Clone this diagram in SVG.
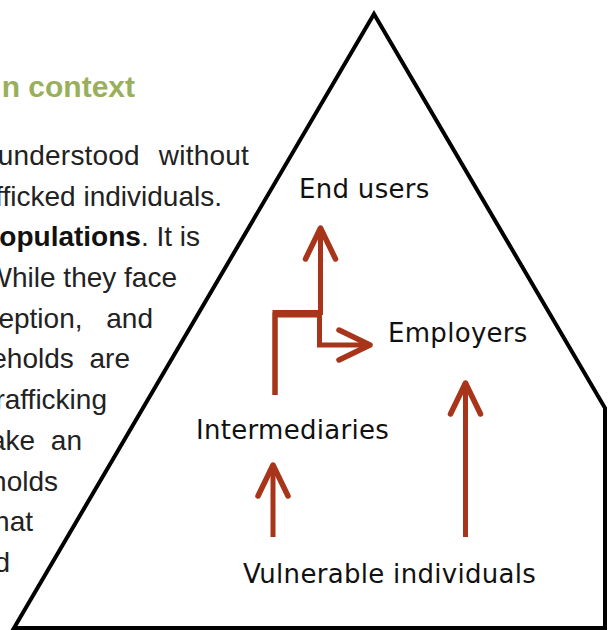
<svg xmlns="http://www.w3.org/2000/svg" width="608" height="630" viewBox="0 0 608 630">
  <style>
    .title { font-family: "Liberation Sans", Arial, sans-serif; font-weight: bold; font-size: 30px; fill: #9aaf5b; }
    .body { font-family: "Liberation Sans", Arial, sans-serif; font-size: 28px; fill: #222222; text-anchor: end; }
    .strong { font-weight: bold; fill: #111111; }
    .label { font-family: "DejaVu Sans", Verdana, sans-serif; font-size: 26px; fill: #111111; letter-spacing: 0.3px; }
    .link { fill: none; stroke: #a8341a; stroke-width: 5; }
  </style>
  <defs>
    <marker id="chevron" markerUnits="userSpaceOnUse" orient="auto" markerWidth="40" markerHeight="40" refX="0" refY="0" overflow="visible">
      <path d="M-31,-15 L0,0 L-31,15" fill="none" stroke="#a8341a" stroke-width="5.5" stroke-linecap="round" stroke-linejoin="round"/>
    </marker>
  </defs>

  <rect width="608" height="630" fill="#ffffff"/>

  <!-- page text running beside the pyramid -->
  <g id="page-text">
    <text class="title" x="135" y="97" text-anchor="end">n context</text>
    <text class="body" x="249" y="165" word-spacing="11" letter-spacing="0.2">understood without</text>
    <text class="body" x="222" y="206">fficked individuals.</text>
    <text class="body" x="200" y="246"><tspan class="strong">opulations</tspan>. It is</text>
    <text class="body" x="177" y="287">While they face</text>
    <text class="body" x="153" y="328" word-spacing="16">eption, and</text>
    <text class="body" x="130" y="368" word-spacing="8">eholds are</text>
    <text class="body" x="107" y="409">rafficking</text>
    <text class="body" x="82" y="450" word-spacing="8">ake an</text>
    <text class="body" x="58" y="491">holds</text>
    <text class="body" x="33" y="531">hat</text>
    <text class="body" x="10" y="572">d</text>
  </g>

  <!-- pyramid -->
  <g id="pyramid">
    <polygon points="374,14 605,408 605,628 14,628" fill="#ffffff" stroke="#000000" stroke-width="4" stroke-linejoin="miter"/>
  </g>

  <!-- connectors -->
  <g id="connectors">
    <path class="link" d="M275,395 V312.5 H320.5 V228" marker-end="url(#chevron)"/>
    <path class="link" d="M275,395 V315 H319.5 V345 H370" marker-end="url(#chevron)"/>
    <path class="link" d="M273,537 V465" marker-end="url(#chevron)"/>
    <path class="link" d="M465.5,537 V383" marker-end="url(#chevron)"/>
  </g>

  <!-- nodes -->
  <g id="end-users">
    <text class="label" x="299" y="198">End users</text>
  </g>
  <g id="employers">
    <text class="label" x="388" y="342">Employers</text>
  </g>
  <g id="intermediaries">
    <text class="label" x="196" y="439">Intermediaries</text>
  </g>
  <g id="vulnerable-individuals">
    <text class="label" x="243" y="583">Vulnerable individuals</text>
  </g>
</svg>
